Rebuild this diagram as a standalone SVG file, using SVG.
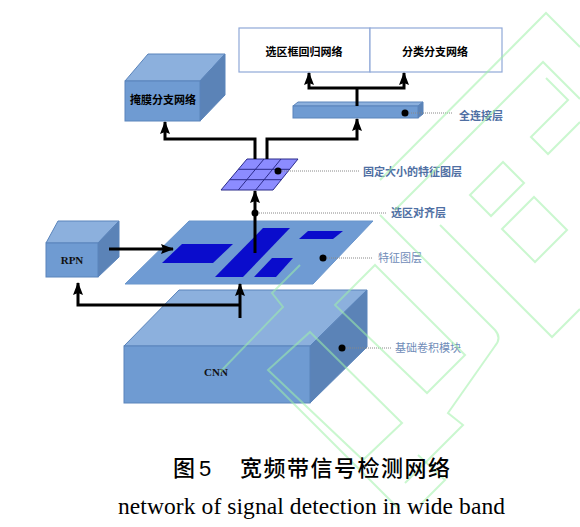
<svg xmlns="http://www.w3.org/2000/svg" width="580" height="527" viewBox="0 0 580 527">
<defs>
<style>
.front{fill:#6f9bd2;stroke:#5a84bb;stroke-width:1}
.top{fill:#8cb0dd;stroke:#5a84bb;stroke-width:1}
.side{fill:#5b83b7;stroke:#5a84bb;stroke-width:1}
.plane{fill:#6f9bd3;stroke:#6a96cc;stroke-width:1}
.roi{fill:#0a0ccc}
.box{fill:#fff;stroke:#8fa8d8;stroke-width:1.2}
.conn{fill:none;stroke:#000;stroke-width:3}
.lead{fill:none;stroke:#888;stroke-width:1;stroke-dasharray:1 1}
.dot{fill:#000}
.bt{font-family:"Noto Sans CJK SC","Noto Sans",sans-serif;font-size:11px;font-weight:bold;fill:#000;text-anchor:middle}
.st{font-family:"Liberation Serif",serif;font-size:11px;font-weight:bold;fill:#111;text-anchor:middle}
.lb{font-family:"Noto Sans CJK SC","Noto Sans",sans-serif;font-size:11px;font-weight:600;fill:#4f6fa3}
.lb2{font-family:"Noto Sans CJK SC","Noto Sans",sans-serif;font-size:11px;font-weight:normal;fill:#6f8cb8}
.wm{fill:none;stroke:#9ef0a8;stroke-width:2;opacity:0.55}
.cap{font-family:"Noto Sans CJK SC","Noto Sans",sans-serif;font-size:22px;font-weight:500;fill:#000}
</style>
<marker id="ah" viewBox="0 0 13 10" markerWidth="13" markerHeight="10" refX="12" refY="5" orient="auto" markerUnits="userSpaceOnUse">
<path d="M0,0 L13,5 L0,10 L2,5 z" fill="#000"/>
</marker>
</defs>
<rect width="580" height="527" fill="#fff"/>

<!-- top boxes -->
<g id="reg-net">
<rect class="box" x="239" y="28" width="131" height="44"/>
<text class="bt" x="304" y="56">选区框回归网络</text>
</g>
<g id="cls-net">
<rect class="box" x="370" y="28" width="132" height="44"/>
<text class="bt" x="435" y="56">分类分支网络</text>
</g>

<!-- mask branch -->
<g id="mask-net">
<polygon class="top" points="125,81 148,54 225,54 200,81"/>
<polygon class="side" points="200,81 225,54 225,95 200,121"/>
<rect class="front" x="125" y="81" width="75" height="40"/>
<text class="bt" x="163" y="104">掩膜分支网络</text>
</g>

<!-- FC layer -->
<g id="fc">
<polygon class="top" points="293,106 298,102 423,102 418,106"/>
<polygon class="side" points="418,106 423,102 423,114 418,118"/>
<rect class="front" x="293" y="106" width="125" height="12"/>
</g>

<!-- fixed-size feature map -->
<g id="roi-map">
<polygon points="247,159 298,159 273,190 221,190" fill="#8c8cff" stroke="#2b2b8a" stroke-width="1"/>
<path d="M264,159 L238.3,190 M281,159 L255.7,190 M238.3,169.3 L289.7,169.3 M229.7,179.7 L281.3,179.7" stroke="#2b2b8a" stroke-width="1" fill="none"/>
</g>

<!-- feature map plane -->
<g id="feature-map">
<polygon class="plane" points="189,221 373,221 313,284 125,284"/>
<polygon class="roi" points="182,244 233,244 213,263 162,263"/>
<polygon class="roi" points="263,228 290,228 243,277 215,277"/>
<polygon class="roi" points="308,231 343,231 333,239 299,239"/>
<polygon class="roi" points="272,258 293,258 276,277 254,277"/>
</g>

<!-- RPN -->
<g id="rpn">
<polygon class="top" points="46,243 58,221 119,221 98,243"/>
<polygon class="side" points="98,243 119,221 119,257 98,277"/>
<rect class="front" x="46" y="243" width="52" height="34"/>
<text class="st" x="72" y="264">RPN</text>
</g>

<!-- CNN -->
<g id="cnn">
<polygon class="top" points="124,346 179,290 367,290 310,346"/>
<polygon class="side" points="310,346 367,290 367,347 310,403"/>
<rect class="front" x="124" y="346" width="186" height="57"/>
<text class="st" x="216" y="376">CNN</text>
</g>

<!-- connectors -->
<g id="connectors">
<path class="conn" d="M240,318 V284" marker-end="url(#ah)"/>
<path class="conn" d="M240,305 H78 V283" marker-end="url(#ah)"/>
<path class="conn" d="M109,249 H173" marker-end="url(#ah)"/>
<path class="conn" d="M255,253 V191" marker-end="url(#ah)"/>
<path class="conn" d="M255,159 V139 H165 V122" marker-end="url(#ah)"/>
<path class="conn" d="M267,159 V139 H357 V119" marker-end="url(#ah)"/>
<path class="conn" d="M357,106 V88"/>
<path class="conn" d="M357,88 H309 V73" marker-end="url(#ah)"/>
<path class="conn" d="M357,88 H404 V73" marker-end="url(#ah)"/>
</g>

<!-- callouts -->
<g id="callouts">
<path class="lead" d="M405,113 H453 M278,171 H360 M255,213 H387 M323,258 H373 M342,348 H392"/>
<circle class="dot" cx="405" cy="113" r="3.5"/>
<circle class="dot" cx="278" cy="171" r="3.5"/>
<circle class="dot" cx="255" cy="213" r="3.5"/>
<circle class="dot" cx="323" cy="258" r="3.5"/>
<circle class="dot" cx="342" cy="348" r="3.5"/>
<text class="lb" x="459" y="120">全连接层</text>
<text class="lb" x="363" y="176">固定大小的特征图层</text>
<text class="lb" x="391" y="217">选区对齐层</text>
<text class="lb2" x="378" y="262">特征图层</text>
<text class="lb2" x="395" y="352">基础卷积模块</text>
</g>

<!-- watermark -->
<g id="watermark">
<path class="wm" d="M380,180 L546,13 L580,47"/>
<path class="wm" d="M395,210 L543,62 L580,99"/>
<path class="wm" d="M546,78 L568,100 L531,137 L548,154 L580,122"/>
<polygon class="wm" points="503,162 524,183 491,216 470,195"/>
<polygon class="wm" points="534,197 567,230 535,262 502,229"/>
<path class="wm" d="M380,215 L495,330 Q502,338 495,346 L448,413 L463,425 L405,483"/>
<path class="wm" d="M440,225 L552,337 L580,309"/>
<polygon class="wm" points="375,265 465,355 427,393 335,305"/>
<polygon class="wm" points="310,332 402,423 363,460 268,370"/>
<path class="wm" d="M300,265 L272,293 L283,307 L220,372"/>
<path class="wm" d="M270,380 L400,510"/>
<path class="wm" d="M418,455 L445,480 L420,505"/>
</g>

<!-- caption -->
<g id="caption">
<text class="cap" x="173" y="476">图</text>
<text x="199" y="476" font-family="'Liberation Sans','Noto Sans',sans-serif" font-size="22" fill="#000">5</text>
<text class="cap" x="240" y="476" textLength="210" lengthAdjust="spacing">宽频带信号检测网络</text>
<text x="118" y="514" font-family="'Liberation Serif',serif" font-size="23.5" fill="#000" textLength="387" lengthAdjust="spacing">network of signal detection in wide band</text>
</g>
</svg>
